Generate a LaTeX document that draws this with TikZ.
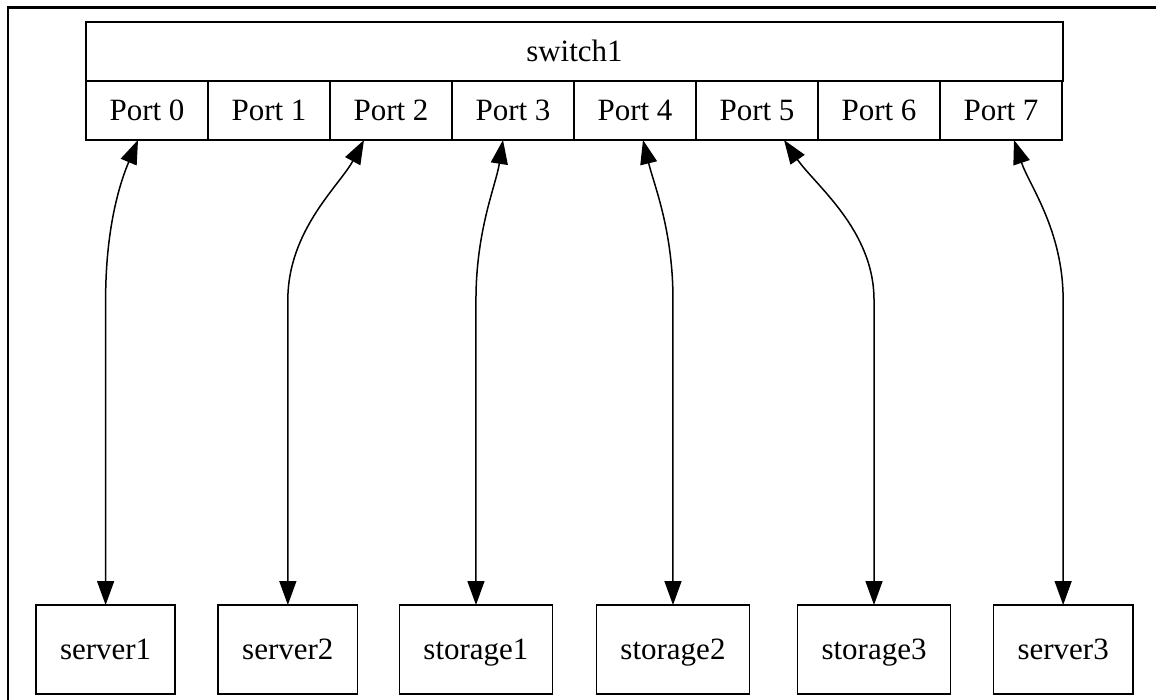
\documentclass[tikz,border=0pt]{standalone}
\usepackage{fontspec}
\setmainfont{Liberation Serif}
\usepackage{tikz}
\usetikzlibrary{arrows.meta,positioning}

\tikzset{
  cell/.style={draw,line width=1.5pt,outer sep=0pt,inner sep=0pt,
    minimum width=122pt,minimum height=59pt,text height=24pt,text depth=4pt,
    font=\fontsize{31}{37}\selectfont},
  host/.style={draw,line width=1.5pt,outer sep=0pt,inner xsep=24pt,inner ysep=0pt,
    minimum height=89pt,text height=24pt,text depth=4pt,
    font=\fontsize{31}{37}\selectfont},
  link/.style={line width=1.5pt,
    {Triangle[length=24pt,width=17pt]}-{Triangle[length=24pt,width=17pt]}}
}

\begin{document}
\begin{tikzpicture}[x=1pt,y=-1pt]
		\useasboundingbox (0,0) rectangle (1156,700);
		% frame of the window
		\draw[line width=2.5pt] (8,700) -- (8,7.7) -- (1156,7.7);
		% the switch record
		\node[cell] (p0) at (147,110.5) {Port 0};
		\node[cell,right=0pt of p0] (p1) {Port 1};
		\node[cell,right=0pt of p1] (p2) {Port 2};
		\node[cell,right=0pt of p2] (p3) {Port 3};
		\node[cell,right=0pt of p3] (p4) {Port 4};
		\node[cell,right=0pt of p4] (p5) {Port 5};
		\node[cell,right=0pt of p5] (p6) {Port 6};
		\node[cell,right=0pt of p6] (p7) {Port 7};
		\node[cell,minimum width=977pt,anchor=south west] (switch) at (p0.north west) {switch1};
		% hosts
		\node[host,anchor=north west] (server1) at (36,605) {server1};
		\node[host,right=43pt of server1] (server2) {server2};
		\node[host,right=42pt of server2] (storage1) {storage1};
		\node[host,right=44pt of storage1] (storage2) {storage2};
		\node[host,right=48pt of storage2] (storage3) {storage3};
		\node[host,right=43pt of storage3] (server3) {server3};
		% links
		\draw[link] (server1.north) -- ++(0,-305) .. controls +(0,-70) and +(-19,45) .. ([xshift=-9pt]p0.south);
		\draw[link] (server2.north) -- ++(0,-305) .. controls +(0,-70) and +(-24,45) .. ([xshift=-27pt]p2.south);
		\draw[link] (storage1.north) -- ++(0,-305) .. controls +(0,-70) and +(-7,45) .. ([xshift=-10pt]p3.south);
		\draw[link] (storage2.north) -- ++(0,-305) .. controls +(0,-70) and +(11,45) .. ([xshift=8pt]p4.south);
		\draw[link] (storage3.north) -- ++(0,-305) .. controls +(0,-70) and +(31,45) .. ([xshift=27pt]p5.south);
		\draw[link] (server3.north) -- ++(0,-305) .. controls +(0,-70) and +(15,45) .. ([xshift=13pt]p7.south);
	\end{tikzpicture}
\end{document}
